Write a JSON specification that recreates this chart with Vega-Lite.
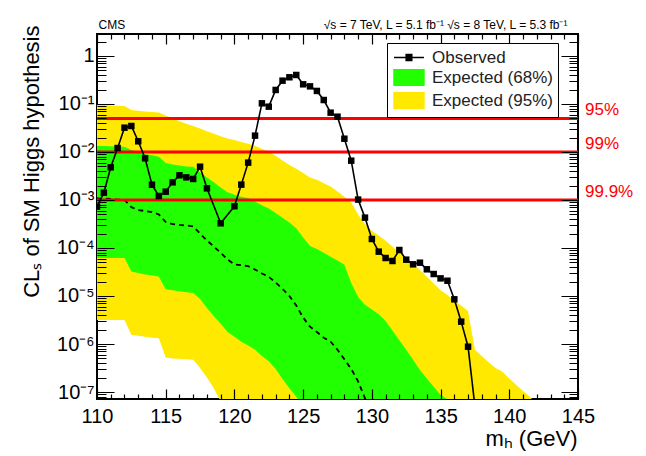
{
  "$schema": "https://vega.github.io/schema/vega-lite/v6.json",
  "width": 481,
  "height": 365,
  "autosize": {"type": "none"},
  "padding": {"left": 97, "top": 34, "right": 68, "bottom": 57},
  "background": "white",
  "config": {
    "view": {"stroke": "black", "strokeWidth": 2},
    "font": "Liberation Sans",
    "axis": {"domain": false, "grid": false, "zindex": 3, "ticks": false, "labelColor": "black", "titleColor": "black", "labelFont": "Liberation Sans", "titleFont": "Liberation Sans", "titleFontWeight": "normal", "labelFlush": false, "labelOverlap": false, "labelBound": false}
  },
  "datasets": {
    "exp": [
      {"m": 110, "lo95": 3.16e-6, "lo68": 6.17e-5, "med": 1.08e-3, "hi68": 1.33e-2, "hi95": 0.0955},
      {"m": 110.5, "lo95": 3.16e-6, "lo68": 6.17e-5, "med": 1.07e-3, "hi68": 1.33e-2, "hi95": 0.0944},
      {"m": 111, "lo95": 3.16e-6, "lo68": 6.17e-5, "med": 1.05e-3, "hi68": 1.32e-2, "hi95": 0.0933},
      {"m": 111.5, "lo95": 3.16e-6, "lo68": 6.17e-5, "med": 1.02e-3, "hi68": 1.3e-2, "hi95": 0.0923},
      {"m": 112, "lo95": 3.16e-6, "lo68": 6.17e-5, "med": 1.0e-3, "hi68": 1.29e-2, "hi95": 0.0912},
      {"m": 112.5, "lo95": 1.55e-6, "lo68": 3.24e-5, "med": 7.08e-4, "hi68": 1.1e-2, "hi95": 0.075},
      {"m": 113, "lo95": 1.48e-6, "lo68": 3.02e-5, "med": 6.17e-4, "hi68": 1.0e-2, "hi95": 0.0724},
      {"m": 113.5, "lo95": 1.41e-6, "lo68": 2.82e-5, "med": 5.89e-4, "hi68": 9.12e-3, "hi95": 0.070},
      {"m": 114, "lo95": 1.35e-6, "lo68": 2.69e-5, "med": 5.62e-4, "hi68": 8.51e-3, "hi95": 0.0684},
      {"m": 114.5, "lo95": 1.32e-6, "lo68": 2.51e-5, "med": 5.01e-4, "hi68": 7.94e-3, "hi95": 0.0661},
      {"m": 115, "lo95": 5.25e-7, "lo68": 1.38e-5, "med": 3.47e-4, "hi68": 5.89e-3, "hi95": 0.0575},
      {"m": 115.5, "lo95": 5.01e-7, "lo68": 1.32e-5, "med": 3.16e-4, "hi68": 5.5e-3, "hi95": 0.0501},
      {"m": 116, "lo95": 4.9e-7, "lo68": 1.26e-5, "med": 3.02e-4, "hi68": 5.25e-3, "hi95": 0.0437},
      {"m": 116.5, "lo95": 4.79e-7, "lo68": 1.2e-5, "med": 2.95e-4, "hi68": 5.01e-3, "hi95": 0.0389},
      {"m": 117, "lo95": 4.68e-7, "lo68": 1.15e-5, "med": 2.82e-4, "hi68": 4.9e-3, "hi95": 0.0347},
      {"m": 117.5, "lo95": 3.16e-7, "lo68": 8.71e-6, "med": 2.0e-4, "hi68": 3.8e-3, "hi95": 0.0309},
      {"m": 118, "lo95": 2.0e-7, "lo68": 5.62e-6, "med": 1.44e-4, "hi68": 2.95e-3, "hi95": 0.0269},
      {"m": 118.5, "lo95": 1.2e-7, "lo68": 3.8e-6, "med": 1.07e-4, "hi68": 2.34e-3, "hi95": 0.024},
      {"m": 119, "lo95": 6.31e-8, "lo68": 2.63e-6, "med": 7.94e-5, "hi68": 1.82e-3, "hi95": 0.0214},
      {"m": 119.5, "lo95": 3.55e-8, "lo68": 1.78e-6, "med": 5.75e-5, "hi68": 1.45e-3, "hi95": 0.0191},
      {"m": 120, "lo95": 1e-8, "lo68": 1.41e-6, "med": 4.57e-5, "hi68": 1.29e-3, "hi95": 0.0178},
      {"m": 120.5, "lo95": 1e-8, "lo68": 1.12e-6, "med": 4.37e-5, "hi68": 1.17e-3, "hi95": 0.0162},
      {"m": 121, "lo95": 1e-8, "lo68": 9.33e-7, "med": 4.17e-5, "hi68": 1.1e-3, "hi95": 0.0148},
      {"m": 121.5, "lo95": 1e-8, "lo68": 7.59e-7, "med": 3.55e-5, "hi68": 9.33e-4, "hi95": 0.0135},
      {"m": 122, "lo95": 1e-8, "lo68": 5.62e-7, "med": 2.95e-5, "hi68": 7.76e-4, "hi95": 0.0117},
      {"m": 122.5, "lo95": 1e-8, "lo68": 4.37e-7, "med": 2.51e-5, "hi68": 6.61e-4, "hi95": 0.01},
      {"m": 123, "lo95": 1e-8, "lo68": 3.02e-7, "med": 1.91e-5, "hi68": 5.37e-4, "hi95": 8.32e-3},
      {"m": 123.5, "lo95": 1e-8, "lo68": 1.86e-7, "med": 1.41e-5, "hi68": 4.27e-4, "hi95": 6.61e-3},
      {"m": 124, "lo95": 1e-8, "lo68": 1.2e-7, "med": 1.0e-5, "hi68": 3.39e-4, "hi95": 5.37e-3},
      {"m": 124.5, "lo95": 1e-8, "lo68": 7.94e-8, "med": 6.31e-6, "hi68": 2.57e-4, "hi95": 4.47e-3},
      {"m": 125, "lo95": 1e-8, "lo68": 5.01e-8, "med": 3.55e-6, "hi68": 1.66e-4, "hi95": 3.63e-3},
      {"m": 125.5, "lo95": 1e-8, "lo68": 1e-8, "med": 2.29e-6, "hi68": 1.1e-4, "hi95": 2.95e-3},
      {"m": 126, "lo95": 1e-8, "lo68": 1e-8, "med": 1.78e-6, "hi68": 9.55e-5, "hi95": 2.63e-3},
      {"m": 126.5, "lo95": 1e-8, "lo68": 1e-8, "med": 1.35e-6, "hi68": 7.94e-5, "hi95": 2.24e-3},
      {"m": 127, "lo95": 1e-8, "lo68": 1e-8, "med": 1.12e-6, "hi68": 6.61e-5, "hi95": 1.91e-3},
      {"m": 127.5, "lo95": 1e-8, "lo68": 1e-8, "med": 7.59e-7, "hi68": 5.5e-5, "hi95": 1.51e-3},
      {"m": 128, "lo95": 1e-8, "lo68": 1e-8, "med": 4.79e-7, "hi68": 4.47e-5, "hi95": 1.17e-3},
      {"m": 128.5, "lo95": 1e-8, "lo68": 1e-8, "med": 3.02e-7, "hi68": 1.86e-5, "hi95": 8.91e-4},
      {"m": 129, "lo95": 1e-8, "lo68": 1e-8, "med": 1.66e-7, "hi68": 9.55e-6, "hi95": 5.01e-4},
      {"m": 129.5, "lo95": 1e-8, "lo68": 1e-8, "med": 7.41e-8, "hi68": 6.61e-6, "hi95": 3.16e-4},
      {"m": 130, "lo95": 1e-8, "lo68": 1e-8, "med": 3.16e-8, "hi68": 5.25e-6, "hi95": 2.29e-4},
      {"m": 130.5, "lo95": 1e-8, "lo68": 1e-8, "med": null, "hi68": 4.17e-6, "hi95": 1.82e-4},
      {"m": 131, "lo95": 1e-8, "lo68": 1e-8, "med": null, "hi68": 3.02e-6, "hi95": 1.41e-4},
      {"m": 131.5, "lo95": 1e-8, "lo68": 1e-8, "med": null, "hi68": 1.91e-6, "hi95": 1.07e-4},
      {"m": 132, "lo95": 1e-8, "lo68": 1e-8, "med": null, "hi68": 1.2e-6, "hi95": 7.94e-5},
      {"m": 132.5, "lo95": 1e-8, "lo68": 1e-8, "med": null, "hi68": 7.59e-7, "hi95": 6.31e-5},
      {"m": 133, "lo95": 1e-8, "lo68": 1e-8, "med": null, "hi68": 4.68e-7, "hi95": 4.68e-5},
      {"m": 133.5, "lo95": 1e-8, "lo68": 1e-8, "med": null, "hi68": 2.88e-7, "hi95": 3.47e-5},
      {"m": 134, "lo95": 1e-8, "lo68": 1e-8, "med": null, "hi68": 1.91e-7, "hi95": 2.51e-5},
      {"m": 134.5, "lo95": 1e-8, "lo68": 1e-8, "med": null, "hi68": 1.29e-7, "hi95": 1.82e-5},
      {"m": 135, "lo95": 1e-8, "lo68": 1e-8, "med": null, "hi68": 8.71e-8, "hi95": 1.32e-5},
      {"m": 135.5, "lo95": 1e-8, "lo68": 1e-8, "med": null, "hi68": 7.08e-8, "hi95": 1.05e-5},
      {"m": 136, "lo95": 1e-8, "lo68": 1e-8, "med": null, "hi68": 5.01e-8, "hi95": 7.94e-6},
      {"m": 136.5, "lo95": 1e-8, "lo68": 1e-8, "med": null, "hi68": 1e-8, "hi95": 6.31e-6},
      {"m": 137, "lo95": 1e-8, "lo68": 1e-8, "med": null, "hi68": 1e-8, "hi95": 4.79e-6},
      {"m": 137.5, "lo95": 1e-8, "lo68": 1e-8, "med": null, "hi68": 1e-8, "hi95": 7.59e-7},
      {"m": 138, "lo95": 1e-8, "lo68": 1e-8, "med": null, "hi68": 1e-8, "hi95": 5.62e-7},
      {"m": 138.5, "lo95": 1e-8, "lo68": 1e-8, "med": null, "hi68": 1e-8, "hi95": 4.17e-7},
      {"m": 139, "lo95": 1e-8, "lo68": 1e-8, "med": null, "hi68": 1e-8, "hi95": 3.16e-7},
      {"m": 139.5, "lo95": 1e-8, "lo68": 1e-8, "med": null, "hi68": 1e-8, "hi95": 2.63e-7},
      {"m": 140, "lo95": 1e-8, "lo68": 1e-8, "med": null, "hi68": 1e-8, "hi95": 1.91e-7},
      {"m": 140.5, "lo95": 1e-8, "lo68": 1e-8, "med": null, "hi68": 1e-8, "hi95": 1.41e-7},
      {"m": 141, "lo95": 1e-8, "lo68": 1e-8, "med": null, "hi68": 1e-8, "hi95": 1.05e-7},
      {"m": 141.5, "lo95": 1e-8, "lo68": 1e-8, "med": null, "hi68": 1e-8, "hi95": 7.94e-8},
      {"m": 142, "lo95": 1e-8, "lo68": 1e-8, "med": null, "hi68": 1e-8, "hi95": 5.62e-8},
      {"m": 142.5, "lo95": 1e-8, "lo68": 1e-8, "med": null, "hi68": 1e-8, "hi95": 3.98e-8}
    ],
    "obs": [
      {"m": 110, "cls": 7.26e-4}, {"m": 110.5, "cls": 1.42e-3}, {"m": 111, "cls": 4.79e-3}, {"m": 111.5, "cls": 1.21e-2},
      {"m": 112, "cls": 3.21e-2}, {"m": 112.5, "cls": 3.48e-2}, {"m": 113, "cls": 1.67e-2}, {"m": 113.5, "cls": 7.38e-3},
      {"m": 114, "cls": 2.08e-3}, {"m": 114.5, "cls": 1.21e-3}, {"m": 115, "cls": 1.49e-3}, {"m": 115.5, "cls": 2.33e-3},
      {"m": 116, "cls": 3.27e-3}, {"m": 116.5, "cls": 2.96e-3}, {"m": 117, "cls": 2.74e-3}, {"m": 117.5, "cls": 4.94e-3},
      {"m": 118, "cls": 1.75e-3}, {"m": 119, "cls": 3.27e-4}, {"m": 120, "cls": 7.4e-4}, {"m": 120.5, "cls": 2.09e-3},
      {"m": 121, "cls": 6.0e-3}, {"m": 121.5, "cls": 2.19e-2}, {"m": 122, "cls": 0.1033}, {"m": 122.5, "cls": 0.0879},
      {"m": 123, "cls": 0.196}, {"m": 123.5, "cls": 0.306}, {"m": 124, "cls": 0.36}, {"m": 124.5, "cls": 0.402},
      {"m": 125, "cls": 0.257}, {"m": 125.5, "cls": 0.233}, {"m": 126, "cls": 0.187}, {"m": 126.5, "cls": 0.121},
      {"m": 127, "cls": 0.0659}, {"m": 127.5, "cls": 0.0544}, {"m": 128, "cls": 0.0189}, {"m": 128.5, "cls": 6.59e-3},
      {"m": 129, "cls": 1.02e-3}, {"m": 129.5, "cls": 4.29e-4}, {"m": 130, "cls": 1.54e-4}, {"m": 130.5, "cls": 8.39e-5},
      {"m": 131, "cls": 6.19e-5}, {"m": 131.5, "cls": 5.36e-5}, {"m": 132, "cls": 9.08e-5}, {"m": 132.5, "cls": 5.71e-5},
      {"m": 133, "cls": 4.57e-5}, {"m": 133.5, "cls": 4.94e-5}, {"m": 134, "cls": 3.6e-5}, {"m": 134.5, "cls": 2.87e-5},
      {"m": 135, "cls": 2.33e-5}, {"m": 135.5, "cls": 2.08e-5}, {"m": 136, "cls": 8.53e-6}, {"m": 136.5, "cls": 2.92e-6},
      {"m": 137, "cls": 8.79e-7}, {"m": 137.5, "cls": 5e-8}
    ],
    "cl": [
      {"label": "95%", "v": 0.05},
      {"label": "99%", "v": 0.01},
      {"label": "99.9%", "v": 0.001}
    ]
  },
  "resolve": {"axis": {"x": "independent", "y": "independent"}},
  "layer": [
    {
      "data": {"name": "exp"},
      "mark": {"type": "area", "clip": true, "interpolate": "linear"},
      "encoding": {
        "x": {"field": "m", "type": "quantitative", "scale": {"domain": [110, 145], "nice": false},
          "axis": {"orient": "bottom", "values": [110, 115, 120, 125, 130, 135, 140, 145], "ticks": false, "labelFontSize": 20, "labelPadding": 7, "format": "d",
            "title": "mₕ (GeV)", "titleFontSize": 22, "titleX": 480, "titleY": 46, "titleAlign": "right", "titleBaseline": "alphabetic"}},
        "y": {"field": "hi95", "type": "quantitative", "scale": {"type": "log", "domain": [7.15e-8, 2.87], "nice": false},
          "axis": {"orient": "left", "values": [1e-7, 1e-6, 1e-5, 1e-4, 1e-3, 1e-2, 1e-1, 1], "ticks": false, "labelFontSize": 20, "labelPadding": 3,
            "labelExpr": "datum.value > 0.5 ? '1' : '10' + ['⁻¹','⁻²','⁻³','⁻⁴','⁻⁵','⁻⁶','⁻⁷'][round(-log(datum.value)/LN10)-1]",
            "title": "CLₛ of SM Higgs hypothesis", "titleFontSize": 22, "titleX": -58.5, "titleY": -9, "titleAlign": "right", "titleBaseline": "alphabetic", "titleAngle": 270}},
        "y2": {"field": "lo95"},
        "color": {"datum": "Expected (95%)", "type": "nominal",
          "scale": {"domain": ["Observed", "Expected (68%)", "Expected (95%)"], "range": ["black", "#22ff00", "#ffe900"]},
          "legend": {"orient": "none", "legendX": 290, "legendY": 9, "title": null, "strokeColor": "black", "fillColor": "white", "padding": 5, "zindex": 4,
            "labelFontSize": 17, "labelFont": "Liberation Sans", "labelColor": "#222222", "symbolSize": 289, "rowPadding": 0, "labelOffset": 21,
            "encode": {"symbols": {"update": {
              "shape": {"signal": "datum.value === 'Observed' ? 'M-0.88,0H2.64M0.55,-0.35H1.21V0.35H0.55Z' : 'M-0.88,-0.9H2.64V0.9H-0.88Z'"},
              "fill": {"signal": "datum.value === 'Observed' ? 'black' : (datum.value === 'Expected (68%)' ? '#22ff00' : '#ffe900')"},
              "stroke": {"signal": "datum.value === 'Observed' ? 'black' : 'transparent'"},
              "strokeWidth": {"value": 1.5},
              "opacity": {"value": 1}
            }}}}}
      }
    },
    {
      "data": {"name": "exp"},
      "mark": {"type": "area", "clip": true, "interpolate": "linear"},
      "encoding": {
        "x": {"field": "m", "type": "quantitative", "scale": {"domain": [110, 145], "nice": false},
          "axis": {"orient": "bottom", "values": [110, 115, 120, 125, 130, 135, 140, 145], "labels": false, "title": null, "ticks": false, "zindex": 3,
            "grid": true, "gridColor": "#000000", "gridOpacity": 1, "gridWidth": 1.2, "gridDash": [10, 345, 10, 2000]}},
        "y": {"field": "hi68", "type": "quantitative", "scale": {"type": "log", "domain": [7.15e-8, 2.87], "nice": false},
          "axis": {"orient": "left", "values": [1e-7, 1e-6, 1e-5, 1e-4, 1e-3, 1e-2, 1e-1, 1], "labels": false, "title": null, "ticks": false, "zindex": 3,
            "grid": true, "gridColor": "#000000", "gridOpacity": 1, "gridWidth": 1.2, "gridDash": [17, 447, 17, 2000]}},
        "y2": {"field": "lo68"},
        "color": {"datum": "Expected (68%)", "type": "nominal"}
      }
    },
    {
      "data": {"name": "exp"},
      "mark": {"type": "line", "clip": true, "color": "black", "strokeWidth": 1.8, "strokeDash": [5, 4]},
      "encoding": {
        "x": {"field": "m", "type": "quantitative", "scale": {"domain": [110, 145], "nice": false},
          "axis": {"orient": "bottom", "values": [111, 112, 113, 114, 116, 117, 118, 119, 121, 122, 123, 124, 126, 127, 128, 129, 131, 132, 133, 134, 136, 137, 138, 139, 141, 142, 143, 144], "labels": false, "title": null, "ticks": false, "zindex": 3,
            "grid": true, "gridColor": "#000000", "gridOpacity": 1, "gridWidth": 1.2, "gridDash": [5, 355, 5, 2000]}},
        "y": {"field": "med", "type": "quantitative", "scale": {"type": "log", "domain": [7.15e-8, 2.87], "nice": false},
          "axis": {"orient": "left", "values": [8e-8, 9e-8, 2e-7, 3e-7, 4e-7, 5e-7, 6e-7, 7e-7, 8e-7, 9e-7, 2e-6, 3e-6, 4e-6, 5e-6, 6e-6, 7e-6, 8e-6, 9e-6, 2e-5, 3e-5, 4e-5, 5e-5, 6e-5, 7e-5, 8e-5, 9e-5, 2e-4, 3e-4, 4e-4, 5e-4, 6e-4, 7e-4, 8e-4, 9e-4, 0.002, 0.003, 0.004, 0.005, 0.006, 0.007, 0.008, 0.009, 0.02, 0.03, 0.04, 0.05, 0.06, 0.07, 0.08, 0.09, 0.2, 0.3, 0.4, 0.5, 0.6, 0.7, 0.8, 0.9, 2], "labels": false, "title": null, "ticks": false, "zindex": 3,
            "grid": true, "gridColor": "#000000", "gridOpacity": 1, "gridWidth": 1.2, "gridDash": [9, 463, 9, 2000]}}
      }
    },
    {
      "data": {"name": "cl"},
      "mark": {"type": "rule", "color": "#ff0000", "strokeWidth": 3},
      "encoding": {
        "y": {"field": "v", "type": "quantitative", "scale": {"type": "log", "domain": [7.15e-8, 2.87], "nice": false}, "axis": null}
      }
    },
    {
      "data": {"name": "cl"},
      "mark": {"type": "text", "color": "#ff0000", "fontSize": 17, "font": "Liberation Sans", "align": "left", "baseline": "alphabetic", "dx": 7, "dy": -3},
      "encoding": {
        "x": {"datum": 145, "type": "quantitative", "scale": {"domain": [110, 145], "nice": false}, "axis": null},
        "y": {"field": "v", "type": "quantitative", "scale": {"type": "log", "domain": [7.15e-8, 2.87], "nice": false}, "axis": null},
        "text": {"field": "label"}
      }
    },
    {
      "data": {"name": "obs"},
      "mark": {"type": "line", "clip": true, "strokeWidth": 1.6},
      "encoding": {
        "x": {"field": "m", "type": "quantitative", "scale": {"domain": [110, 145], "nice": false},
          "axis": {"orient": "top", "values": [110, 145], "ticks": false, "labels": false,
            "title": "CMS", "titleFontSize": 12, "titleX": 1, "titleY": -6, "titleAlign": "left", "titleBaseline": "alphabetic"}},
        "y": {"field": "cls", "type": "quantitative", "scale": {"type": "log", "domain": [7.15e-8, 2.87], "nice": false}, "axis": null},
        "color": {"datum": "Observed", "type": "nominal"}
      }
    },
    {
      "data": {"name": "obs"},
      "mark": {"type": "point", "shape": "square", "filled": true, "size": 42, "color": "black", "opacity": 1, "clip": true},
      "encoding": {
        "x": {"field": "m", "type": "quantitative", "scale": {"domain": [110, 145], "nice": false},
          "axis": {"orient": "top", "values": [110, 145], "ticks": false, "labels": false,
            "title": "√s = 7 TeV, L = 5.1 fb⁻¹  √s = 8 TeV, L = 5.3 fb⁻¹", "titleFontSize": 12, "titleX": 470, "titleY": -6, "titleAlign": "right", "titleBaseline": "alphabetic"}},
        "y": {"field": "cls", "type": "quantitative", "scale": {"type": "log", "domain": [7.15e-8, 2.87], "nice": false}, "axis": null}
      }
    }
  ]
}
